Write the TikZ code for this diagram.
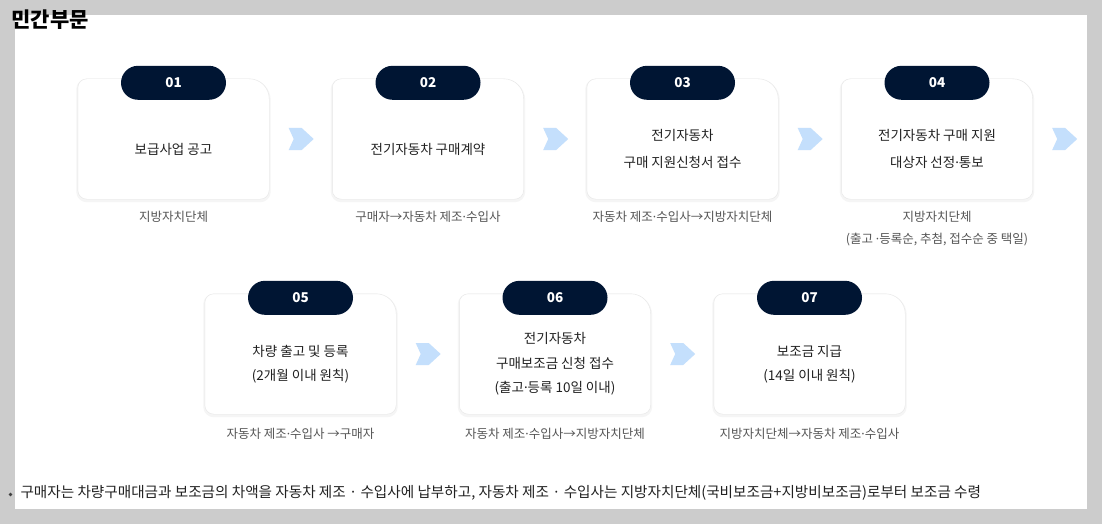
\documentclass[tikz,border=0pt]{standalone}
\usepackage{fontspec}
\setmainfont{Noto Sans CJK KR}
\newfontfamily\latinfont{Noto Sans}
\newcommand\mdot{{\latinfont ·}}
\usetikzlibrary{positioning}

\definecolor{navy}{HTML}{001533}
\definecolor{arrowblue}{HTML}{C4DFFC}
\definecolor{subgray}{HTML}{555555}
\definecolor{bggray}{HTML}{CCCCCC}
\definecolor{frame}{HTML}{E6E6E6}

\tikzset{
  card/.style={minimum width=191pt, minimum height=120pt, inner sep=0pt},
  cardline/.style={draw=frame, fill=white, preaction={draw=black!4, line width=3pt, transform canvas={yshift=-1.5pt}}},
  cardtext/.style={align=center, text=black!87, font=\fontsize{13.5}{26.5}\selectfont},
  numpill/.style={fill=navy, rounded corners=17pt, minimum width=105pt, minimum height=34pt, inner sep=0pt, text=white, font=\bfseries\fontsize{13.5}{15}\selectfont},
  who/.style={align=center, text=subgray, font=\fontsize{12.5}{22}\selectfont},
  nextarrow/.pic={\fill [arrowblue] (-12.5,-11) -- (0.5,-11) -- (12.5,0) -- (0.5,11) -- (-12.5,11) -- (-7.5,0) -- cycle;}
}

\begin{document}
\begin{tikzpicture}[x=1pt, y=-1pt]
\useasboundingbox (0,0) rectangle (1102,524);
\fill [bggray] (0,0) rectangle (1102,524);
\fill [white] (15,15) rectangle (1087,509);

\node [anchor=west, font=\bfseries\fontsize{21}{24}\selectfont] (title) at (8,20) {민간부문};

% cards with number tabs
\foreach \n/\x/\y in {01/173.5/139, 02/428/139, 03/682.5/139, 04/937/139, 05/300.5/354, 06/555/354, 07/809.5/354} {
  \node [card] (c\n) at (\x,\y) {};
  \draw [cardline] (c\n.west) [rounded corners=9pt] -- (c\n.north west) -- (c\n.north)
    [rounded corners=20pt] -- (c\n.north east) -- (c\n.east)
    [rounded corners=9pt] -- (c\n.south east) -- (c\n.south west) -- cycle;
  \node [numpill] (p\n) at ([yshift=-4pt]c\n.north) {\n};
}

\node [cardtext] (t01) at ([yshift=-10pt]c01.center) {보급사업 공고};
\node [cardtext] (t02) at ([yshift=-10pt]c02.center) {전기자동차 구매계약};
\node [cardtext] (t03) at ([yshift=-10pt]c03.center) {전기자동차\\구매 지원신청서 접수};
\node [cardtext] (t04) at ([yshift=-10pt]c04.center) {전기자동차 구매 지원\\대상자 선정\mdot 통보};
\node [cardtext, font=\fontsize{13.5}{24.5}\selectfont] (t05) at ([yshift=-10pt]c05.center) {차량 출고 및 등록\\(2개월 이내 원칙)};
\node [cardtext, font=\fontsize{13.5}{24.5}\selectfont] (t06) at ([yshift=-10pt]c06.center) {전기자동차\\구매보조금 신청 접수\\(출고\mdot 등록 10일 이내)};
\node [cardtext, font=\fontsize{13.5}{24.5}\selectfont] (t07) at ([yshift=-10pt]c07.center) {보조금 지급\\(14일 이내 원칙)};

\node [who, below=8pt of c01] (w01) {지방자치단체};
\node [who, below=8pt of c02] (w02) {구매자→자동차 제조\mdot 수입사};
\node [who, below=8pt of c03] (w03) {자동차 제조\mdot 수입사→지방자치단체};
\node [who, below=8pt of c04] (w04) {지방자치단체\\(출고 \mdot 등록순, 추첨, 접수순 중 택일)};
\node [who, below=10pt of c05] (w05) {자동차 제조\mdot 수입사 →구매자};
\node [who, below=10pt of c06] (w06) {자동차 제조\mdot 수입사→지방자치단체};
\node [who, below=10pt of c07] (w07) {지방자치단체→자동차 제조\mdot 수입사};

% arrows between steps
\foreach \n in {01,02,03,04,05,06}
  \pic at ([xshift=32pt]c\n.east) {nextarrow};

\fill [black!75] (10.5,494.5) circle (1.8pt);
\node [anchor=west, text=black!87, font=\fontsize{14.6}{16}\selectfont] (note) at (17,493)
  {구매자는 차량구매대금과 보조금의 차액을 자동차 제조 · 수입사에 납부하고, 자동차 제조 · 수입사는 지방자치단체(국비보조금+지방비보조금)로부터 보조금 수령};
\end{tikzpicture}
\end{document}
